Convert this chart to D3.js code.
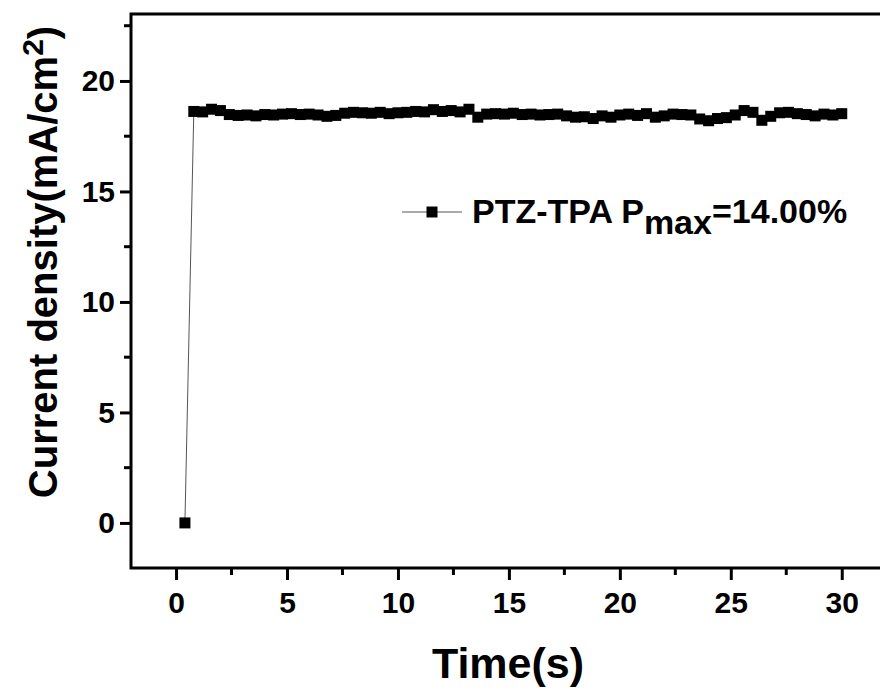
<!DOCTYPE html>
<meta charset="utf-8" />
<title>Current density vs time</title>
<style>
  body { margin: 0; background: #fff; }
  svg { display: block; }
  text { font-family: "Liberation Sans", Arial, sans-serif; font-weight: bold; fill: #000; }
</style>
<body>
<svg width="880" height="691"></svg>
<script src="https://d3js.org/d3.v7.min.js"></script>
<script>
  // data
  const times = [0.4, 0.8, 1.2, 1.6, 2.0, 2.4, 2.8, 3.2, 3.6, 4.0, 4.4, 4.8, 5.2, 5.6, 6.0, 6.4, 6.8,
    7.2, 7.6, 8.0, 8.4, 8.8, 9.2, 9.6, 10.0, 10.4, 10.8, 11.2, 11.6, 12.0, 12.4, 12.8, 13.2, 13.6,
    14.0, 14.4, 14.8, 15.2, 15.6, 16.0, 16.4, 16.8, 17.2, 17.6, 18.0, 18.4, 18.8, 19.2, 19.6, 20.0,
    20.4, 20.8, 21.2, 21.6, 22.0, 22.4, 22.8, 23.2, 23.6, 24.0, 24.4, 24.8, 25.2, 25.6, 26.0, 26.4,
    26.8, 27.2, 27.6, 28.0, 28.4, 28.8, 29.2, 29.6, 30.0];
  const density = [0, 18.62, 18.60, 18.72, 18.66, 18.48, 18.44, 18.46, 18.42, 18.48, 18.46, 18.50,
    18.52, 18.48, 18.50, 18.46, 18.40, 18.44, 18.54, 18.58, 18.56, 18.54, 18.58, 18.52, 18.56, 18.58,
    18.62, 18.60, 18.70, 18.62, 18.66, 18.60, 18.72, 18.36, 18.50, 18.52, 18.50, 18.54, 18.48, 18.50,
    18.46, 18.48, 18.50, 18.42, 18.36, 18.38, 18.30, 18.42, 18.36, 18.46, 18.50, 18.44, 18.52, 18.36,
    18.42, 18.50, 18.48, 18.46, 18.28, 18.20, 18.30, 18.34, 18.46, 18.66, 18.58, 18.22, 18.40, 18.56,
    18.58, 18.52, 18.48, 18.42, 18.50, 18.46, 18.52];
  const xTicks = [0, 5, 10, 15, 20, 25, 30];
  const yTicks = [0, 5, 10, 15, 20];
  const seriesName = "PTZ-TPA P";
  const seriesSub = "max";
  const seriesTail = "=14.00%";

  const svg = d3.select("svg");
  const mLeft = 131, mTop = 14, mBottom = 568, mRight = 895;

  const x = d3.scaleLinear().domain([-2.03, 32.4]).range([mLeft, mRight]);
  const y = d3.scaleLinear().domain([-2.04, 23.03]).range([mBottom, mTop]);

  const points = times.map((t, i) => ({ t: t, v: density[i] }));

  // x axis
  const xMinor = [2.5, 7.5, 12.5, 17.5, 22.5, 27.5];
  const xAxis = svg.append("g").attr("transform", `translate(0,${mBottom})`);
  xAxis.call(d3.axisBottom(x).tickValues(xTicks).tickSize(12).tickPadding(12).tickFormat(d3.format("d")));
  xAxis.selectAll(".minor").data(xMinor).join("line").attr("class", "minor")
    .attr("x1", d => x(d)).attr("x2", d => x(d)).attr("y1", 0).attr("y2", 7)
    .attr("stroke", "#000").attr("stroke-width", 3);
  xAxis.select(".domain").remove();
  xAxis.selectAll(".tick line").attr("stroke-width", 3);
  xAxis.selectAll(".tick text").attr("font-size", 30).attr("font-family", "Liberation Sans, Arial")
    .attr("font-weight", "bold").attr("fill", "#000");

  // y axis
  const yMinor = [2.5, 7.5, 12.5, 17.5, 22.5];
  const yAxis = svg.append("g").attr("transform", `translate(${mLeft},0)`);
  yAxis.call(d3.axisLeft(y).tickValues(yTicks).tickSize(11).tickPadding(5).tickFormat(d3.format("d")));
  yAxis.selectAll(".minor").data(yMinor).join("line").attr("class", "minor")
    .attr("x1", 0).attr("x2", -7).attr("y1", d => y(d)).attr("y2", d => y(d))
    .attr("stroke", "#000").attr("stroke-width", 3);
  yAxis.select(".domain").remove();
  yAxis.selectAll(".tick line").attr("stroke-width", 3);
  yAxis.selectAll(".tick text").attr("font-size", 30).attr("font-family", "Liberation Sans, Arial")
    .attr("font-weight", "bold").attr("fill", "#000");

  // frame (right side falls outside the picture)
  svg.append("rect")
    .attr("x", mLeft).attr("y", mTop)
    .attr("width", mRight - mLeft).attr("height", mBottom - mTop)
    .attr("fill", "none").attr("stroke", "#000").attr("stroke-width", 3);

  // data
  const line = d3.line().x(d => x(d.t)).y(d => y(d.v));
  svg.append("path").datum(points)
    .attr("d", line).attr("fill", "none").attr("stroke", "#555").attr("stroke-width", 1);
  const ms = 11;
  svg.append("g").selectAll("rect").data(points).join("rect")
    .attr("x", d => x(d.t) - ms / 2).attr("y", d => y(d.v) - ms / 2)
    .attr("width", ms).attr("height", ms).attr("fill", "#000");

  // legend
  const lg = svg.append("g").attr("transform", "translate(402,212)");
  lg.append("line").attr("x1", 0).attr("x2", 60).attr("y1", 0).attr("y2", 0)
    .attr("stroke", "#555").attr("stroke-width", 1);
  lg.append("rect").attr("x", 30 - ms / 2).attr("y", -ms / 2).attr("width", ms).attr("height", ms).attr("fill", "#000");
  const lt = lg.append("text").attr("x", 70).attr("y", 11).attr("font-size", 34);
  lt.append("tspan").text(seriesName);
  lt.append("tspan").attr("dy", 11).text(seriesSub);
  lt.append("tspan").attr("dy", -11).text(seriesTail);

  // axis titles
  svg.append("text").attr("x", 508).attr("y", 678).attr("text-anchor", "middle")
    .attr("font-size", 43).text("Time(s)");
  const yt = svg.append("text").attr("transform", "translate(57,262) rotate(-90)")
    .attr("text-anchor", "middle").attr("font-size", 40);
  yt.append("tspan").text("Current density(mA/cm");
  yt.append("tspan").attr("dy", -14).attr("font-size", 30).text("2");
  yt.append("tspan").attr("dy", 14).text(")");
</script>
</body>
